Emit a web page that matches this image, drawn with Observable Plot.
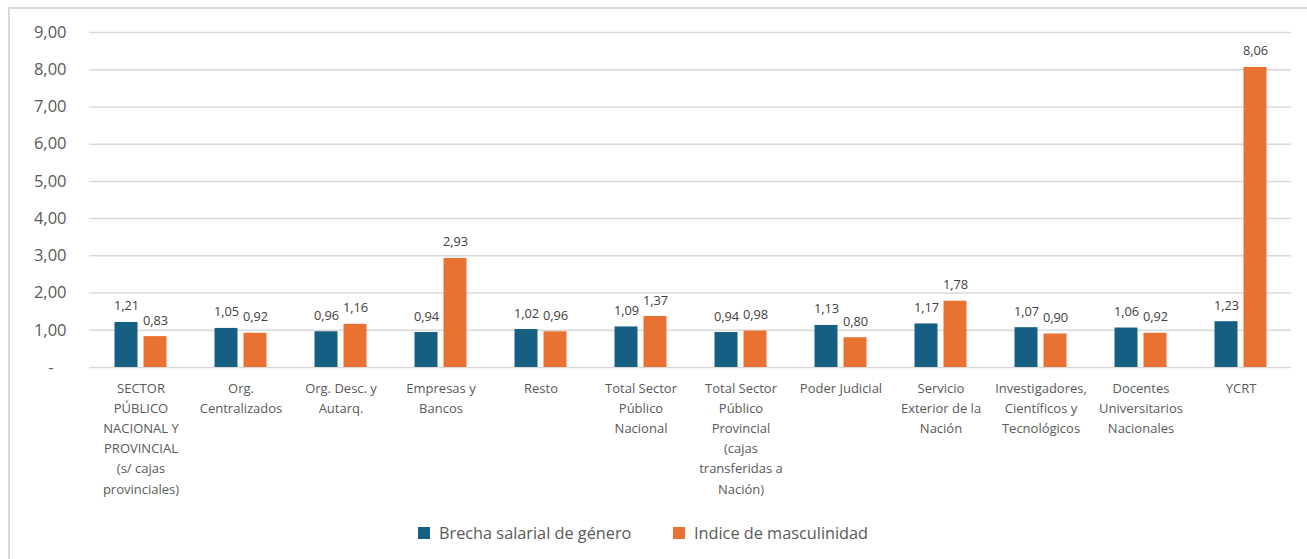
<!DOCTYPE html>
<html>
<head>
<meta charset="utf-8">
<script src="https://cdn.jsdelivr.net/npm/d3@7"></script>
<script src="https://cdn.jsdelivr.net/npm/@observablehq/plot@0.6"></script>
<style>
  html, body { margin: 0; padding: 0; background: #fff; overflow: hidden; }
  body { width: 1307px; height: 559px; position: relative; font-family: "Open Sans", sans-serif; }
  #frame { position: absolute; left: 8px; top: 7px; width: 1400px; height: 700px; border: 2px solid #d9d9d9; box-sizing: border-box; }
  #chart { position: absolute; left: 0; top: 0; }
  #legend { position: absolute; left: 0; top: 510px; width: 1307px; height: 49px; color: #595959; font-size: 16.3px; }
  .item { position: absolute; top: 12px; display: flex; align-items: center; white-space: nowrap; }
  .sw { width: 12px; height: 12px; margin-right: 9px; }
</style>
</head>
<body>
<div id="frame"></div>
<div id="chart"></div>
<div id="legend"></div>
<script>
const categories = [
  "SECTOR\nPÚBLICO\nNACIONAL Y\nPROVINCIAL\n(s/ cajas\nprovinciales)",
  "Org.\nCentralizados",
  "Org. Desc. y\nAutarq.",
  "Empresas y\nBancos",
  "Resto",
  "Total Sector\nPúblico\nNacional",
  "Total Sector\nPúblico\nProvincial\n(cajas\ntransferidas a\nNación)",
  "Poder Judicial",
  "Servicio\nExterior de la\nNación",
  "Investigadores,\nCientíficos y\nTecnológicos",
  "Docentes\nUniversitarios\nNacionales",
  "YCRT"
];
const brecha = [1.21, 1.05, 0.96, 0.94, 1.02, 1.09, 0.94, 1.13, 1.17, 1.07, 1.06, 1.23];
const masculinidad = [0.83, 0.92, 1.16, 2.93, 0.96, 1.37, 0.98, 0.80, 1.78, 0.90, 0.92, 8.06];
const seriesNames = ["Brecha salarial de género", "Indice de masculinidad"];
const seriesColors = ["#156082", "#E97132"];
const yTicks = [0, 1, 2, 3, 4, 5, 6, 7, 8, 9];

const fmt = v => v.toFixed(2).replace(".", ",");
const rowsB = categories.map((c, i) => ({cat: c, value: brecha[i]}));
const rowsM = categories.map((c, i) => ({cat: c, value: masculinidad[i]}));

const offset = 14.5;
const chart = Plot.plot({
  width: 1307,
  height: 510,
  marginLeft: 89,
  marginRight: 16,
  marginTop: 32,
  marginBottom: 143,
  style: {fontFamily: "'Open Sans', sans-serif", color: "#595959", background: "transparent"},
  x: {domain: categories, paddingInner: 0.77, paddingOuter: 0.385, axis: null},
  y: {domain: [0, 9], label: null},
  marks: [
    Plot.ruleY(yTicks, {stroke: "#d9d9d9", strokeWidth: 1.5}),
    Plot.axisY(yTicks, {tickSize: 0, tickPadding: 23, fontSize: 16.5, label: null, tickFormat: d => d === 0 ? "-\u00a0\u00a0\u00a0" : fmt(d)}),
    Plot.barY(rowsB, {x: "cat", y: "value", fill: seriesColors[0], dx: -offset}),
    Plot.barY(rowsM, {x: "cat", y: "value", fill: seriesColors[1], dx: offset}),
    Plot.text(rowsB, {x: "cat", y: "value", text: d => fmt(d.value), dx: -offset, dy: -12, lineAnchor: "bottom", fontSize: 12.8, fill: "#404040"}),
    Plot.text(rowsM, {x: "cat", y: "value", text: d => fmt(d.value), dx: offset, dy: -12, lineAnchor: "bottom", fontSize: 12.8, fill: "#404040"}),
    Plot.text(categories, {x: d => d, frameAnchor: "bottom", dy: 11, lineAnchor: "top", lineHeight: 1.55, fontSize: 13, fill: "#595959"})
  ]
});
document.getElementById("chart").appendChild(chart);

const legend = document.getElementById("legend");
const lx = [418, 673];
seriesNames.forEach((name, i) => {
  const item = document.createElement("div");
  item.className = "item";
  item.style.left = lx[i] + "px";
  const sw = document.createElement("span");
  sw.className = "sw";
  sw.style.background = seriesColors[i];
  const label = document.createElement("span");
  label.textContent = name;
  item.appendChild(sw);
  item.appendChild(label);
  legend.appendChild(item);
});
</script>
</body>
</html>
